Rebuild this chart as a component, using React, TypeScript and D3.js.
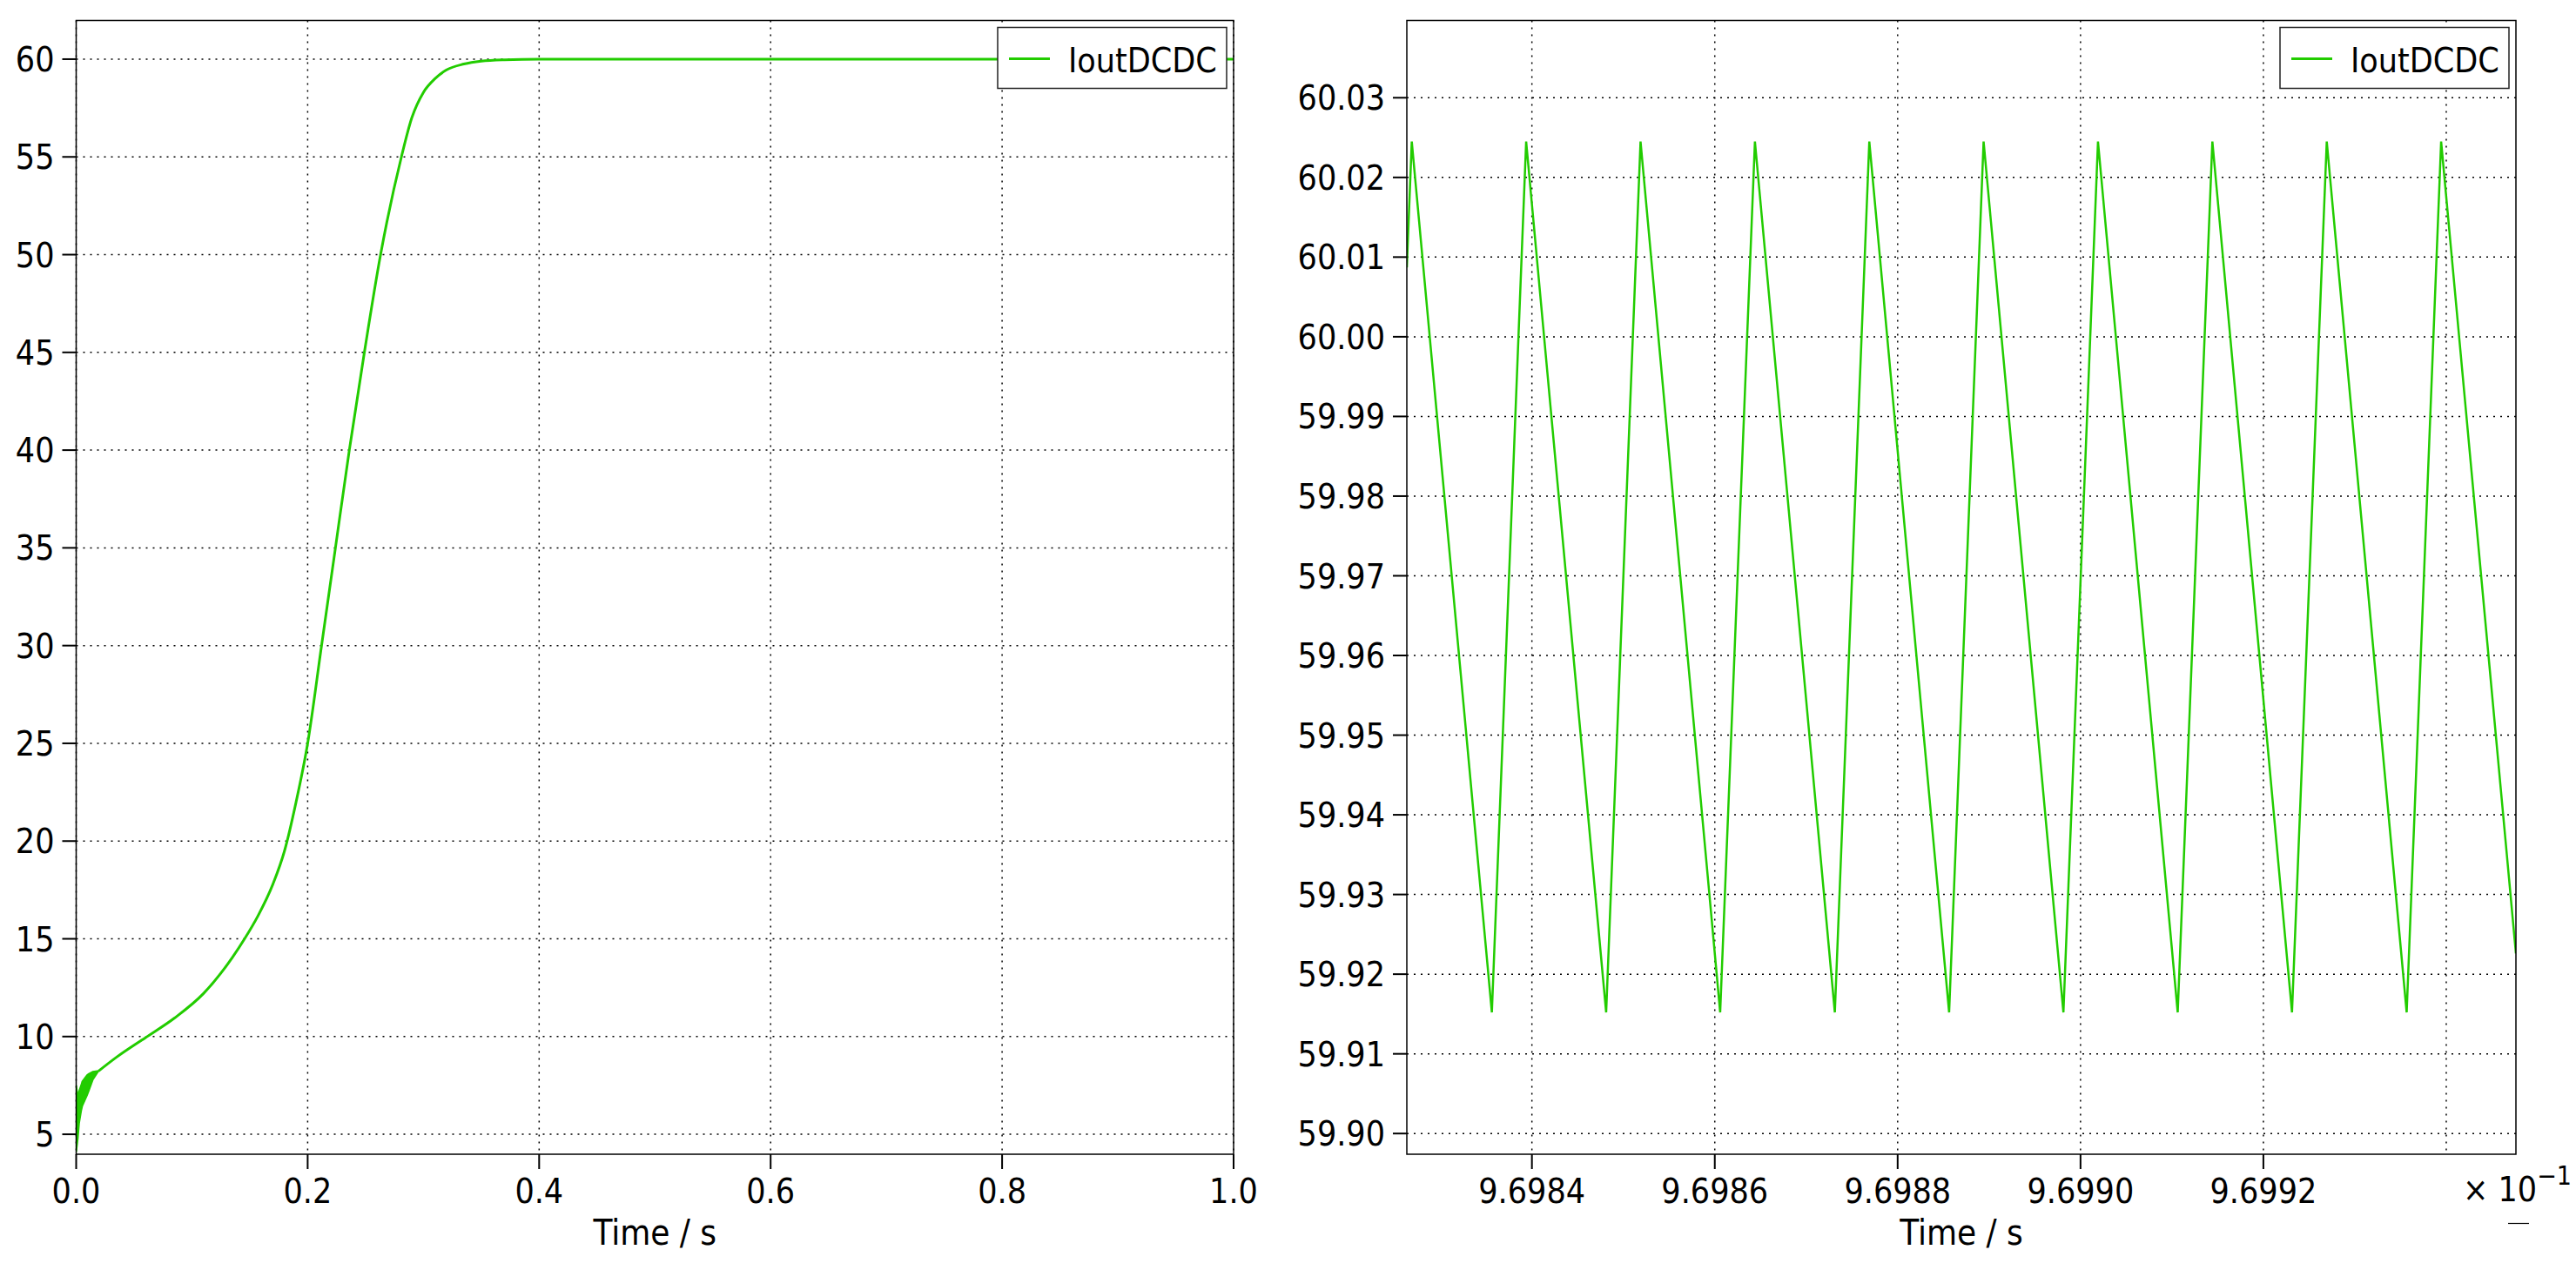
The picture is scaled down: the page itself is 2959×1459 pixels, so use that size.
import { useEffect, useRef } from 'react';
import * as d3 from 'd3';

// left panel: full run, IoutDCDC vs time (s)
const startTime = [0, 0.0014, 0.0025, 0.0043, 0.0053, 0.0094, 0.0107, 0.0144, 0.0182, 0.0194];
const startUpper = [7.5, 6.9, 7.2, 7.5, 7.7, 8.02, 8.08, 8.2, 8.23, 8.24];
const startLower = [4.1, 4.8, 5.57, 6.2, 6.46, 7.0, 7.2, 7.8, 8.15, 8.24];

const runTime = [0.0194, 0.035, 0.06, 0.085, 0.11, 0.135, 0.1455, 0.1573, 0.17, 0.18, 0.19, 0.2, 0.212, 0.224, 0.236, 0.249, 0.263, 0.281, 0.29, 0.3, 0.31, 0.32, 0.335, 0.35, 0.37, 0.4, 0.6, 0.8, 1.0];
const runValue = [8.24, 8.95, 9.95, 10.95, 12.2, 14.05, 15.0, 16.2, 17.8, 19.5, 22.0, 25, 30, 35, 40, 45, 50, 55, 57.0, 58.3, 59.0, 59.45, 59.75, 59.9, 59.97, 60.0, 60.0, 60.0, 60.0];

const leftXTicks = [0, 0.2, 0.4, 0.6, 0.8, 1.0];
const leftYTicks = [5, 10, 15, 20, 25, 30, 35, 40, 45, 50, 55, 60];

// right panel: zoom into the ripple near t = 0.9699 s
const rippleTime = [0.96982632, 0.96982686, 0.96983562, 0.96983937, 0.96984812, 0.96985188, 0.96986059, 0.96986439, 0.96987313, 0.9698769, 0.96988563, 0.9698894, 0.96989813, 0.96990191, 0.96991063, 0.96991442, 0.96992313, 0.96992693, 0.96993567, 0.96993944, 0.96994762];
const rippleValue = [60.0087, 60.0245, 59.9152, 60.0245, 59.9152, 60.0245, 59.9152, 60.0245, 59.9152, 60.0245, 59.9152, 60.0245, 59.9152, 60.0245, 59.9152, 60.0245, 59.9152, 60.0245, 59.9152, 60.0245, 59.9226];

const rightXTicks = [0.96984, 0.96986, 0.96988, 0.9699, 0.96992];
const rightXGrid = [0.96984, 0.96986, 0.96988, 0.9699, 0.96992, 0.96994];
const rightYTicks = [59.9, 59.91, 59.92, 59.93, 59.94, 59.95, 59.96, 59.97, 59.98, 59.99, 60.0, 60.01, 60.02, 60.03];

const GREEN = '#22cc00';
const FONT = "'DejaVu Sans Condensed', 'DejaVu Sans', sans-serif";

const drawPanel = (svg, o) => {
    const x = d3.scaleLinear().domain(o.xDomain).range([o.x0, o.x1]);
    const y = d3.scaleLinear().domain(o.yDomain).range([o.y1, o.y0]);
    const g = svg.append('g');

    // grid
    g.selectAll('.hg').data(o.yTicks).enter().append('line')
        .attr('x1', o.x0).attr('x2', o.x1)
        .attr('y1', d => y(d)).attr('y2', d => y(d))
        .attr('stroke', '#000').attr('stroke-width', 1.5).attr('stroke-dasharray', '2,6');
    g.selectAll('.vg').data(o.xGrid).enter().append('line')
        .attr('x1', d => x(d)).attr('x2', d => x(d))
        .attr('y1', o.y0).attr('y2', o.y1)
        .attr('stroke', '#000').attr('stroke-width', 1.5).attr('stroke-dasharray', '2,6');

    // data
    const clipId = 'clip' + o.id;
    svg.append('clipPath').attr('id', clipId).append('rect')
        .attr('x', o.x0).attr('y', o.y0).attr('width', o.x1 - o.x0).attr('height', o.y1 - o.y0);
    const dg = g.append('g').attr('clip-path', `url(#${clipId})`);
    if (o.band) {
        const area = d3.area()
            .x((d, i) => x(o.band.t[i]))
            .y0((d, i) => y(o.band.lo[i]))
            .y1((d, i) => y(o.band.hi[i]));
        dg.append('path').attr('d', area(o.band.t)).attr('fill', GREEN)
            .attr('stroke', GREEN).attr('stroke-width', 2);
    }
    const line = d3.line()
        .x((d, i) => x(o.t[i]))
        .y((d, i) => y(o.v[i]))
        .curve(o.smooth ? d3.curveMonotoneX : d3.curveLinear);
    dg.append('path').attr('d', line(o.t)).attr('fill', 'none')
        .attr('stroke', GREEN).attr('stroke-width', o.lineWidth).attr('stroke-linejoin', 'miter');

    // frame
    g.append('rect').attr('x', o.x0).attr('y', o.y0)
        .attr('width', o.x1 - o.x0).attr('height', o.y1 - o.y0)
        .attr('fill', 'none').attr('stroke', '#000').attr('stroke-width', 1.5);

    // y ticks
    g.selectAll('.yt').data(o.yTicks).enter().append('line')
        .attr('x1', o.x0 - 16).attr('x2', o.x0)
        .attr('y1', d => y(d)).attr('y2', d => y(d))
        .attr('stroke', '#000').attr('stroke-width', 2);
    g.selectAll('.yl').data(o.yTicks).enter().append('text')
        .attr('x', o.x0 - 25).attr('y', d => y(d)).attr('dy', '0.36em')
        .attr('text-anchor', 'end')
        .style('font-family', FONT).style('font-size', '39px')
        .text(o.yFormat);

    // x ticks
    g.selectAll('.xt').data(o.xTicks).enter().append('line')
        .attr('x1', d => x(d)).attr('x2', d => x(d))
        .attr('y1', o.y1).attr('y2', o.y1 + 17)
        .attr('stroke', '#000').attr('stroke-width', 2);
    g.selectAll('.xl').data(o.xTicks).enter().append('text')
        .attr('x', d => x(d)).attr('y', 1382)
        .attr('text-anchor', 'middle')
        .style('font-family', FONT).style('font-size', '39px')
        .text(o.xFormat);

    // axis title
    g.append('text').attr('x', (o.x0 + o.x1) / 2).attr('y', 1430)
        .attr('text-anchor', 'middle')
        .style('font-family', FONT).style('font-size', '40px')
        .text('Time / s');

    // legend
    const lg = g.append('g').attr('transform', `translate(${o.x1 - 271}, ${o.y0 + 8})`);
    lg.append('rect').attr('x', 0).attr('y', 0).attr('width', 263).attr('height', 70)
        .attr('fill', '#fff').attr('stroke', '#222').attr('stroke-width', 1.5);
    lg.append('line').attr('x1', 13).attr('x2', 60).attr('y1', 36).attr('y2', 36)
        .attr('stroke', GREEN).attr('stroke-width', 3);
    lg.append('text').attr('x', 81).attr('y', 51)
        .style('font-family', FONT).style('font-size', '39px')
        .text('IoutDCDC');

    return { x, y, g };
};

const App = () => {
    const svgRef = useRef();

    useEffect(() => {
        document.body.style.margin = '0';
        const svg = d3.select(svgRef.current);
        svg.selectAll('*').remove();

        drawPanel(svg, {
            id: 'L', x0: 87.5, x1: 1417, y0: 23.5, y1: 1326,
            xDomain: [0, 1], yDomain: [3.98, 61.98],
            xTicks: leftXTicks, xGrid: leftXTicks, yTicks: leftYTicks,
            xFormat: d => d.toFixed(1), yFormat: d => String(d),
            t: runTime, v: runValue, smooth: true, lineWidth: 3,
            band: { t: startTime, hi: startUpper, lo: startLower },
        });

        const right = drawPanel(svg, {
            id: 'R', x0: 1616, x1: 2890, y0: 23.5, y1: 1326,
            xDomain: [0.96982632, 0.96994762], yDomain: [59.8974, 60.0397],
            xTicks: rightXTicks, xGrid: rightXGrid, yTicks: rightYTicks,
            xFormat: d => (d * 10).toFixed(4), yFormat: d => d.toFixed(2),
            t: rippleTime, v: rippleValue, smooth: false, lineWidth: 2.5,
        });

        // axis multiplier
        const m = right.g.append('text').attr('x', 2829).attr('y', 1380)
            .style('font-family', FONT).style('font-size', '39px');
        m.append('tspan').text('\u00d7 10');
        m.append('tspan').attr('dy', -19).style('font-size', '30px').text('\u22121');
        right.g.append('line').attr('x1', 2881).attr('x2', 2905).attr('y1', 1405.5).attr('y2', 1405.5)
            .attr('stroke', '#000').attr('stroke-width', 1.2);
    }, []);

    return (
        <div style={{ position: 'absolute', left: 0, top: 0 }}>
            <svg ref={svgRef} width={2959} height={1459} style={{ display: 'block', background: '#fff' }}></svg>
        </div>
    );
};

export default App;
